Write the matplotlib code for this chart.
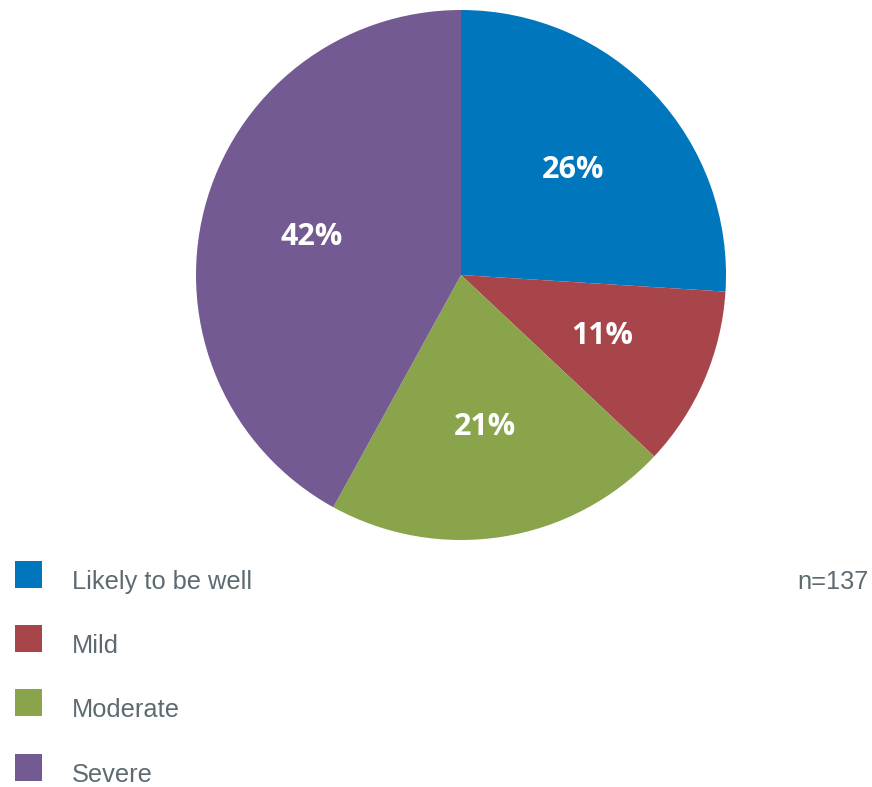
import matplotlib.pyplot as plt
from matplotlib.patches import Rectangle

# severity breakdown, n=137
categories = ["Likely to be well", "Mild", "Moderate", "Severe"]
shares = [26, 11, 21, 42]
colours = ["#0076BC", "#A8454A", "#8AA44C", "#735A92"]
sample_note = "n=137"

W, H = 872, 787
fig = plt.figure(figsize=(W / 100, H / 100), dpi=100)

# pie centred at (461, 275) px with radius 265 px
ax = fig.add_axes([196 / W, 1 - 540 / H, 530 / W, 530 / H])
wedges, texts, autotexts = ax.pie(
    shares, colors=colours, startangle=90, counterclock=False,
    autopct=lambda p: f"{p:.0f}%", pctdistance=0.58,
    wedgeprops=dict(linewidth=0),
    textprops=dict(color="white", fontsize=22, fontweight="bold", family="Open Sans"),
)
ax.set_aspect("equal")
ax.set_xlim(-1, 1)
ax.set_ylim(-1, 1)
ax.axis("off")

# legend: coloured squares with grey labels underneath the pie
row_tops = [561, 625, 689, 754]
for cat, col, top in zip(categories, colours, row_tops):
    fig.patches.append(Rectangle((15 / W, 1 - (top + 27) / H), 27 / W, 27 / H,
                                 transform=fig.transFigure, facecolor=col, edgecolor="none"))
    fig.text(72 / W, 1 - (top + 21) / H, cat, fontsize=18.3, color="#5E6A72",
             family="Liberation Sans", va="center", ha="left")

fig.text(869 / W, 1 - 582 / H, sample_note, fontsize=18.3, color="#5E6A72",
         family="Liberation Sans", va="center", ha="right")

fig.savefig("out.png", dpi=100)
